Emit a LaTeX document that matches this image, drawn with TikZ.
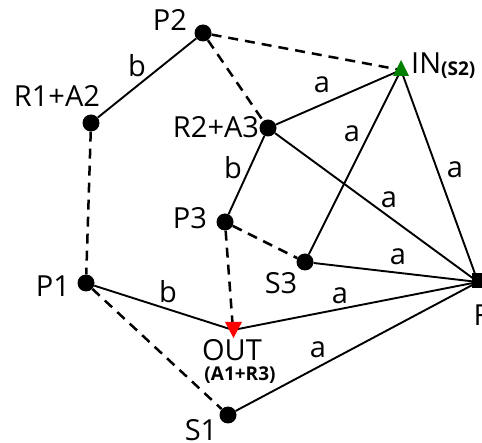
\documentclass[tikz,border=0pt]{standalone}
\usepackage{fontspec}
\setmainfont{Open Sans}
\usetikzlibrary{shapes.geometric}
\begin{document}
\begin{tikzpicture}[x=1pt,y=-1pt,
  dot/.style={circle,fill=black,inner sep=0pt,minimum size=17pt},
  edgeline/.style={line width=1.9pt},
  dashline/.style={line width=2.5pt,dash pattern=on 10pt off 7pt},
  lab/.style={font=\fontsize{29}{29}\selectfont,inner sep=0pt},
  small/.style={font=\bfseries\fontsize{19}{19}\selectfont,inner sep=0pt}]
\useasboundingbox (0,0) rectangle (482,443);
% vertices
\node[dot] (P2) at (203,33) {};
\node[dot] (R1) at (91,123) {};
\node[dot] (R2) at (268,128) {};
\coordinate (IN) at (401,70);
\node[dot] (P3) at (225,222) {};
\node[dot] (S3) at (305,262) {};
\node[dot] (P1) at (86,283) {};
\coordinate (F) at (478,282);
\coordinate (OUT) at (233,330);
\node[dot] (S1) at (228,415) {};
% edges
\draw[dashline] (P2) -- (IN);
\draw[dashline] (P2) -- (R2);
\draw[dashline] (R1) -- (P1);
\draw[dashline] (P3) -- (S3);
\draw[dashline] (P3) -- (OUT);
\draw[dashline] (P1) -- (S1);
\draw[edgeline] (P2) -- (R1);
\draw[edgeline] (R2) -- (IN);
\draw[edgeline] (R2) -- (P3);
\draw[edgeline] (R2) -- (F);
\draw[edgeline] (IN) -- (S3);
\draw[edgeline] (IN) -- (F);
\draw[edgeline] (S3) -- (F);
\draw[edgeline] (P1) -- (OUT);
\draw[edgeline] (OUT) -- (F);
\draw[edgeline] (S1) -- (F);
% special markers
\node[fill=black,minimum width=14pt,minimum height=15pt,inner sep=0pt] (Fbox) at (479,281) {};
\fill[green!50!black] (393,76) -- (409,76) -- (401,60) -- cycle;
\fill[red] (225,322) -- (242,322) -- (233.5,338) -- cycle;
% vertex labels
\node[lab] (tP2) at (170,20) {P2};
\node[lab] (tR1) at (57,96) {R1+A2};
\node[lab] (tR2) at (216,127) {R2+A3};
\node[lab] (tP3) at (190,218) {P3};
\node[lab] (tS3) at (281,283) {S3};
\node[lab] (tP1) at (53,286) {P1};
\node[lab] (tOUT) at (232,350) {OUT};
\node[small] (tA1) at (240,375) {(A1+R3)};
\node[lab] (tS1) at (201,430) {S1};
\node[lab,anchor=west] (tIN) at (411,66) {IN\raisebox{-2pt}{\bfseries\fontsize{19}{19}\selectfont(S2)}};
\node[lab] (tF) at (481,315) {F};
% edge labels
\node[lab] (l1) at (137,66) {b};
\node[lab] (l2) at (322,85) {a};
\node[lab] (l3) at (352,134) {a};
\node[lab] (l4) at (455,170) {a};
\node[lab] (l5) at (233,168) {b};
\node[lab] (l6) at (389,200) {a};
\node[lab] (l7) at (398,257) {a};
\node[lab] (l8) at (168,292) {b};
\node[lab] (l9) at (340,296) {a};
\node[lab] (l10) at (318,350) {a};
\end{tikzpicture}
\end{document}
